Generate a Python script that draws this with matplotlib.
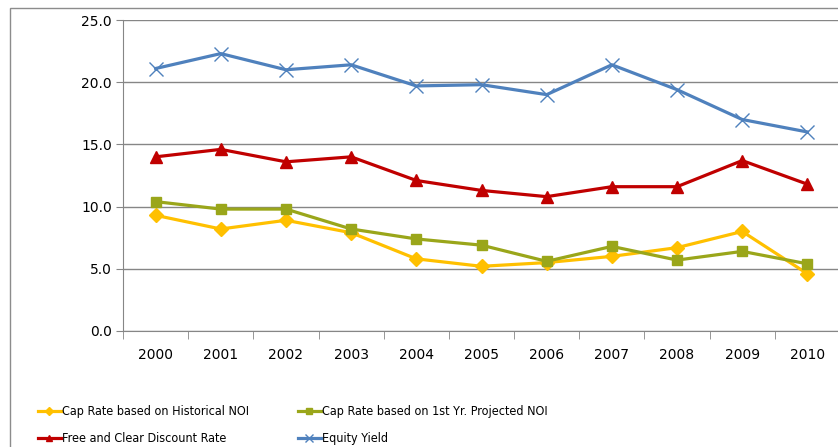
import matplotlib.pyplot as plt
import matplotlib.patches as mpatches
import numpy as np

years = ["2000", "2001", "2002", "2003", "2004", "2005", "2006", "2007", "2008", "2009", "2010"]

cap_hist = [9.3, 8.2, 8.9, 7.9, 5.8, 5.2, 5.5, 6.0, 6.7, 8.0, 4.6]
cap_proj = [10.4, 9.8, 9.8, 8.2, 7.4, 6.9, 5.6, 6.8, 5.7, 6.4, 5.4]
free_clear = [14.0, 14.6, 13.6, 14.0, 12.1, 11.3, 10.8, 11.6, 11.6, 13.7, 11.8]
equity = [21.1, 22.3, 21.0, 21.4, 19.7, 19.8, 19.0, 21.4, 19.4, 17.0, 16.0]

x = np.arange(len(years))

fig = plt.figure(figsize=(8.38, 4.47), dpi=100)
# outer chart frame (cropped on right/bottom like the reference)
fig.patches.append(mpatches.Rectangle((10/838, -0.1), 1.1, 1 - 8/447 + 0.1,
                                      transform=fig.transFigure, fill=False,
                                      edgecolor="#8c8c8c", linewidth=1.0))

ax = fig.add_axes([123/838, 1 - 331/447, 717/838, 311/447])

l1, = ax.plot(x, cap_hist, color="#FFC000", lw=2.3, marker="D", ms=7, label="Cap Rate based on Historical NOI")
l2, = ax.plot(x, cap_proj, color="#9AA61A", lw=2.3, marker="s", ms=7, label="Cap Rate based on 1st Yr. Projected NOI")
l3, = ax.plot(x, free_clear, color="#C00000", lw=2.3, marker="^", ms=8, label="Free and Clear Discount Rate")
l4, = ax.plot(x, equity, color="#4F81BD", lw=2.3, marker="x", ms=10, mew=1.0, label="Equity Yield")

ax.set_xlim(-0.5, len(years) - 0.5)
ax.set_ylim(0, 25)
ax.set_yticks(np.arange(0, 26, 5))
ax.set_yticklabels(["%.1f" % v for v in np.arange(0, 26, 5)], fontsize=10, family="DejaVu Sans")
ax.set_xticks(x)
ax.set_xticklabels(years, fontsize=10, family="DejaVu Sans")
ax.set_xticks(np.arange(-0.5, len(years), 1), minor=True)
ax.tick_params(axis="x", which="major", length=0, pad=12)
ax.tick_params(axis="x", which="minor", length=6, color="#868686", direction="out")
ax.tick_params(axis="y", length=5, color="#868686", direction="out", pad=3)

ax.grid(axis="y", color="#868686", linewidth=1.0)
ax.set_axisbelow(True)
for s in ["top", "right"]:
    ax.spines[s].set_visible(False)
for s in ["left", "bottom"]:
    ax.spines[s].set_color("#868686")

lfont = {"family": "DejaVu Sans", "stretch": "condensed", "size": 9}
legkw = dict(loc="upper left", frameon=False, prop=lfont, handlelength=1.8, handletextpad=0.1,
             labelspacing=1.15, borderaxespad=0, markerscale=0.6)
fig.legend(handles=[l1, l3], bbox_to_anchor=(33/838, 1 - 400/447), **legkw)
fig.legend(handles=[l2, l4], bbox_to_anchor=(293/838, 1 - 400/447), **legkw)

fig.savefig("out.png", dpi=100)
